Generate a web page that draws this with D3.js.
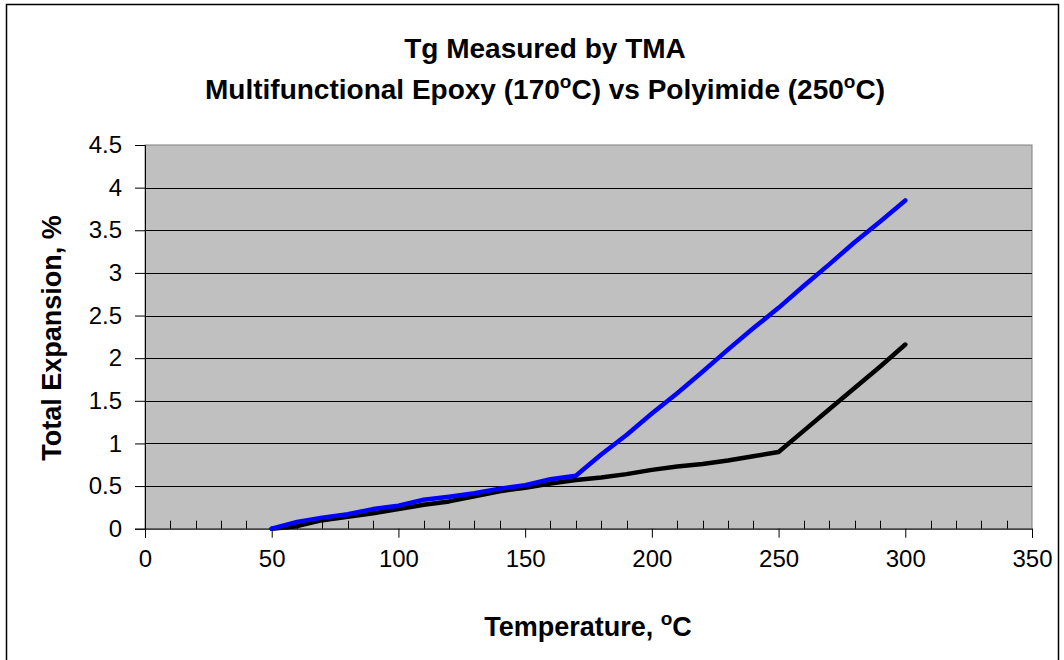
<!DOCTYPE html>
<html>
<head>
<meta charset="utf-8">
<script src="https://cdn.jsdelivr.net/npm/d3@7"></script>
<style>
body { margin: 0; background: #fff; }
text { font-family: "Liberation Sans", Arial, sans-serif; }
</style>
</head>
<body>
<svg width="1064" height="660"></svg>
<script>
// temperatures, deg C
var temps = [50,60,70,80,90,100,110,120,130,140,150,160,170,180,190,200,210,220,230,240,250,260,270,280,290,300];
// polyimide (Tg 250)
var polyimide = [0,0.03,0.10,0.14,0.18,0.23,0.28,0.32,0.38,0.44,0.48,0.53,0.57,0.60,0.64,0.69,0.73,0.76,0.80,0.85,0.90,1.15,1.40,1.65,1.90,2.16];
// multifunctional epoxy (Tg 170)
var epoxy = [0,0.08,0.13,0.17,0.23,0.27,0.34,0.375,0.415,0.47,0.51,0.58,0.62,0.87,1.10,1.35,1.59,1.84,2.10,2.35,2.59,2.85,3.10,3.36,3.60,3.85];

var xTicks = [0,50,100,150,200,250,300,350];
var yTicks = [0,0.5,1,1.5,2,2.5,3,3.5,4,4.5];

var svg = d3.select("svg");

// outer frame
svg.append("rect")
    .attr("x",6.5).attr("y",4.5)
    .attr("width",1052).attr("height",670)
    .attr("fill","none").attr("stroke","#000").attr("stroke-width",1.5);

var plot = {left:145, right:1032, top:145, bottom:528.7};

var xScale = d3.scaleLinear().domain([0,350]).range([plot.left,plot.right]);
var yScale = d3.scaleLinear().domain([0,4.5]).range([plot.bottom,plot.top]);

svg.append("rect")
    .attr("x",plot.left).attr("y",plot.top)
    .attr("width",plot.right-plot.left).attr("height",plot.bottom-plot.top)
    .attr("fill","#c0c0c0").attr("stroke","#808080").attr("stroke-width",1);

// gridlines
svg.append("g")
    .selectAll("line")
    .data(yTicks.slice(1,-1))
    .enter()
    .append("line")
    .attr("x1",plot.left).attr("x2",plot.right)
    .attr("y1",function(d){return Math.round(yScale(d))+0.5})
    .attr("y2",function(d){return Math.round(yScale(d))+0.5})
    .attr("stroke","#000").attr("stroke-width",1);

// x axis
var xAxis = d3.axisBottom(xScale)
    .tickValues(xTicks)
    .tickSize(9)
    .tickPadding(12);
var gx = svg.append("g")
    .attr("transform","translate(0,"+plot.bottom+")")
    .call(xAxis);
gx.select(".domain").attr("stroke","#000");
gx.selectAll("text").attr("font-size",24).attr("fill","#000")
    .style("font-family","'Liberation Sans', Arial, sans-serif");

// minor ticks pointing up
var minor = d3.range(0,351,10).filter(function(v){return v%50!=0});
svg.append("g")
    .selectAll("line")
    .data(minor)
    .enter()
    .append("line")
    .attr("x1",function(d){return Math.round(xScale(d))+0.5})
    .attr("x2",function(d){return Math.round(xScale(d))+0.5})
    .attr("y1",plot.bottom).attr("y2",plot.bottom-8)
    .attr("stroke","#000");

// y axis
var yAxis = d3.axisLeft(yScale)
    .tickValues(yTicks)
    .tickSize(10)
    .tickPadding(13)
    .tickFormat(function(d){return d});
var gy = svg.append("g")
    .attr("transform","translate("+plot.left+",0)")
    .call(yAxis);
gy.select(".domain").attr("stroke","#000");
gy.selectAll("text").attr("font-size",24).attr("fill","#000")
    .style("font-family","'Liberation Sans', Arial, sans-serif");

// lines
var makeLine = function(vals)
{
    return d3.line()
        .x(function(d,i){return xScale(temps[i])})
        .y(function(d){return yScale(d)})(vals);
}

svg.append("path")
    .attr("d",makeLine(polyimide))
    .attr("fill","none").attr("stroke","#000")
    .attr("stroke-width",4.5).attr("stroke-linejoin","round").attr("stroke-linecap","round");

svg.append("path")
    .attr("d",makeLine(epoxy))
    .attr("fill","none").attr("stroke","#0000ff")
    .attr("stroke-width",4.5).attr("stroke-linejoin","round").attr("stroke-linecap","round");

// titles
svg.append("text")
    .attr("x",545).attr("y",58)
    .attr("text-anchor","middle").attr("font-size",28).attr("font-weight","bold")
    .text("Tg Measured by TMA");

var t2 = svg.append("text")
    .attr("x",545).attr("y",99)
    .attr("text-anchor","middle").attr("font-size",28).attr("font-weight","bold")
    .attr("textLength",680).attr("lengthAdjust","spacingAndGlyphs");
t2.append("tspan").text("Multifunctional Epoxy (170");
t2.append("tspan").attr("dy",-11).attr("font-size",19).text("o");
t2.append("tspan").attr("dy",11).text("C) vs Polyimide (250");
t2.append("tspan").attr("dy",-11).attr("font-size",19).text("o");
t2.append("tspan").attr("dy",11).text("C)");

var xt = svg.append("text")
    .attr("x",588).attr("y",636)
    .attr("text-anchor","middle").attr("font-size",27).attr("font-weight","bold");
xt.append("tspan").text("Temperature, ");
xt.append("tspan").attr("dy",-11).attr("font-size",19).text("o");
xt.append("tspan").attr("dy",11).text("C");

svg.append("text")
    .attr("transform","translate(61,338) rotate(-90)")
    .attr("text-anchor","middle").attr("font-size",27).attr("font-weight","bold")
    .text("Total Expansion, %");
</script>
</body>
</html>
